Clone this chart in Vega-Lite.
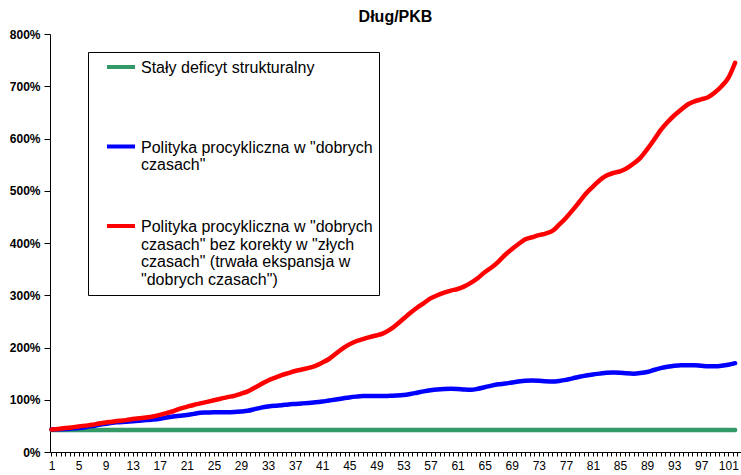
{
  "$schema": "https://vega.github.io/schema/vega-lite/v6.json",
  "width": 691,
  "height": 418,
  "autosize": "none",
  "padding": {"left": 50, "top": 34, "right": 0, "bottom": 23},
  "background": "white",
  "title": {"text": "Dług/PKB", "font": "Liberation Sans", "fontSize": 16, "fontWeight": "bold", "color": "black", "anchor": "middle", "baseline": "alphabetic", "offset": 11, "dy": 21},
  "data": {"values": [
{"x":1,"s":"a","v":42},{"x":2,"s":"a","v":42},{"x":3,"s":"a","v":42},{"x":4,"s":"a","v":42},{"x":5,"s":"a","v":42},{"x":6,"s":"a","v":42},{"x":7,"s":"a","v":42},{"x":8,"s":"a","v":42},{"x":9,"s":"a","v":42},{"x":10,"s":"a","v":42},
{"x":11,"s":"a","v":42},{"x":12,"s":"a","v":42},{"x":13,"s":"a","v":42},{"x":14,"s":"a","v":42},{"x":15,"s":"a","v":42},{"x":16,"s":"a","v":42},{"x":17,"s":"a","v":42},{"x":18,"s":"a","v":42},{"x":19,"s":"a","v":42},{"x":20,"s":"a","v":42},
{"x":21,"s":"a","v":42},{"x":22,"s":"a","v":42},{"x":23,"s":"a","v":42},{"x":24,"s":"a","v":42},{"x":25,"s":"a","v":42},{"x":26,"s":"a","v":42},{"x":27,"s":"a","v":42},{"x":28,"s":"a","v":42},{"x":29,"s":"a","v":42},{"x":30,"s":"a","v":42},
{"x":31,"s":"a","v":42},{"x":32,"s":"a","v":42},{"x":33,"s":"a","v":42},{"x":34,"s":"a","v":42},{"x":35,"s":"a","v":42},{"x":36,"s":"a","v":42},{"x":37,"s":"a","v":42},{"x":38,"s":"a","v":42},{"x":39,"s":"a","v":42},{"x":40,"s":"a","v":42},
{"x":41,"s":"a","v":42},{"x":42,"s":"a","v":42},{"x":43,"s":"a","v":42},{"x":44,"s":"a","v":42},{"x":45,"s":"a","v":42},{"x":46,"s":"a","v":42},{"x":47,"s":"a","v":42},{"x":48,"s":"a","v":42},{"x":49,"s":"a","v":42},{"x":50,"s":"a","v":42},
{"x":51,"s":"a","v":42},{"x":52,"s":"a","v":42},{"x":53,"s":"a","v":42},{"x":54,"s":"a","v":42},{"x":55,"s":"a","v":42},{"x":56,"s":"a","v":42},{"x":57,"s":"a","v":42},{"x":58,"s":"a","v":42},{"x":59,"s":"a","v":42},{"x":60,"s":"a","v":42},
{"x":61,"s":"a","v":42},{"x":62,"s":"a","v":42},{"x":63,"s":"a","v":42},{"x":64,"s":"a","v":42},{"x":65,"s":"a","v":42},{"x":66,"s":"a","v":42},{"x":67,"s":"a","v":42},{"x":68,"s":"a","v":42},{"x":69,"s":"a","v":42},{"x":70,"s":"a","v":42},
{"x":71,"s":"a","v":42},{"x":72,"s":"a","v":42},{"x":73,"s":"a","v":42},{"x":74,"s":"a","v":42},{"x":75,"s":"a","v":42},{"x":76,"s":"a","v":42},{"x":77,"s":"a","v":42},{"x":78,"s":"a","v":42},{"x":79,"s":"a","v":42},{"x":80,"s":"a","v":42},
{"x":81,"s":"a","v":42},{"x":82,"s":"a","v":42},{"x":83,"s":"a","v":42},{"x":84,"s":"a","v":42},{"x":85,"s":"a","v":42},{"x":86,"s":"a","v":42},{"x":87,"s":"a","v":42},{"x":88,"s":"a","v":42},{"x":89,"s":"a","v":42},{"x":90,"s":"a","v":42},
{"x":91,"s":"a","v":42},{"x":92,"s":"a","v":42},{"x":93,"s":"a","v":42},{"x":94,"s":"a","v":42},{"x":95,"s":"a","v":42},{"x":96,"s":"a","v":42},{"x":97,"s":"a","v":42},{"x":98,"s":"a","v":42},{"x":99,"s":"a","v":42},{"x":100,"s":"a","v":42},
{"x":101,"s":"a","v":42},{"x":102,"s":"a","v":42},
{"x":1,"s":"b","v":43},{"x":2,"s":"b","v":43.5},{"x":3,"s":"b","v":44},{"x":4,"s":"b","v":45},{"x":5,"s":"b","v":46},{"x":6,"s":"b","v":47.5},{"x":7,"s":"b","v":49.5},{"x":8,"s":"b","v":52},{"x":9,"s":"b","v":54},{"x":10,"s":"b","v":56},
{"x":11,"s":"b","v":57},{"x":12,"s":"b","v":58},{"x":13,"s":"b","v":59},{"x":14,"s":"b","v":60},{"x":15,"s":"b","v":61},{"x":16,"s":"b","v":62},{"x":17,"s":"b","v":63.5},{"x":18,"s":"b","v":66},{"x":19,"s":"b","v":68},{"x":20,"s":"b","v":69.5},
{"x":21,"s":"b","v":71},{"x":22,"s":"b","v":73},{"x":23,"s":"b","v":75},{"x":24,"s":"b","v":75.5},{"x":25,"s":"b","v":76},{"x":26,"s":"b","v":76},{"x":27,"s":"b","v":76},{"x":28,"s":"b","v":76.5},{"x":29,"s":"b","v":77.5},{"x":30,"s":"b","v":79},
{"x":31,"s":"b","v":82},{"x":32,"s":"b","v":85},{"x":33,"s":"b","v":87},{"x":34,"s":"b","v":88.5},{"x":35,"s":"b","v":89.5},{"x":36,"s":"b","v":91},{"x":37,"s":"b","v":92},{"x":38,"s":"b","v":93},{"x":39,"s":"b","v":94},{"x":40,"s":"b","v":95},
{"x":41,"s":"b","v":96.5},{"x":42,"s":"b","v":98.5},{"x":43,"s":"b","v":100.5},{"x":44,"s":"b","v":102.5},{"x":45,"s":"b","v":104.5},{"x":46,"s":"b","v":106},{"x":47,"s":"b","v":107},{"x":48,"s":"b","v":107},{"x":49,"s":"b","v":107},{"x":50,"s":"b","v":107},
{"x":51,"s":"b","v":107.5},{"x":52,"s":"b","v":108},{"x":53,"s":"b","v":109},{"x":54,"s":"b","v":111},{"x":55,"s":"b","v":113.5},{"x":56,"s":"b","v":116},{"x":57,"s":"b","v":118},{"x":58,"s":"b","v":119.5},{"x":59,"s":"b","v":120.5},{"x":60,"s":"b","v":121},
{"x":61,"s":"b","v":120.5},{"x":62,"s":"b","v":119.5},{"x":63,"s":"b","v":119},{"x":64,"s":"b","v":121},{"x":65,"s":"b","v":124},{"x":66,"s":"b","v":127},{"x":67,"s":"b","v":129.5},{"x":68,"s":"b","v":131},{"x":69,"s":"b","v":133},{"x":70,"s":"b","v":135},
{"x":71,"s":"b","v":136.5},{"x":72,"s":"b","v":137},{"x":73,"s":"b","v":136.5},{"x":74,"s":"b","v":135.5},{"x":75,"s":"b","v":135},{"x":76,"s":"b","v":136},{"x":77,"s":"b","v":138},{"x":78,"s":"b","v":141},{"x":79,"s":"b","v":144},{"x":80,"s":"b","v":146.5},
{"x":81,"s":"b","v":148.5},{"x":82,"s":"b","v":150},{"x":83,"s":"b","v":151.5},{"x":84,"s":"b","v":152},{"x":85,"s":"b","v":151.5},{"x":86,"s":"b","v":150.5},{"x":87,"s":"b","v":150},{"x":88,"s":"b","v":151},{"x":89,"s":"b","v":153},{"x":90,"s":"b","v":157},
{"x":91,"s":"b","v":160.5},{"x":92,"s":"b","v":163},{"x":93,"s":"b","v":165},{"x":94,"s":"b","v":166},{"x":95,"s":"b","v":166},{"x":96,"s":"b","v":166},{"x":97,"s":"b","v":165},{"x":98,"s":"b","v":164},{"x":99,"s":"b","v":164},{"x":100,"s":"b","v":165},
{"x":101,"s":"b","v":167},{"x":102,"s":"b","v":170},
{"x":1,"s":"c","v":43},{"x":2,"s":"c","v":44},{"x":3,"s":"c","v":46},{"x":4,"s":"c","v":47},{"x":5,"s":"c","v":49},{"x":6,"s":"c","v":50.5},{"x":7,"s":"c","v":52},{"x":8,"s":"c","v":54.5},{"x":9,"s":"c","v":56.5},{"x":10,"s":"c","v":58},
{"x":11,"s":"c","v":60},{"x":12,"s":"c","v":61},{"x":13,"s":"c","v":63},{"x":14,"s":"c","v":64.5},{"x":15,"s":"c","v":66},{"x":16,"s":"c","v":68},{"x":17,"s":"c","v":71},{"x":18,"s":"c","v":74.5},{"x":19,"s":"c","v":78},{"x":20,"s":"c","v":83},
{"x":21,"s":"c","v":86.5},{"x":22,"s":"c","v":90},{"x":23,"s":"c","v":93},{"x":24,"s":"c","v":96},{"x":25,"s":"c","v":99},{"x":26,"s":"c","v":102},{"x":27,"s":"c","v":105},{"x":28,"s":"c","v":107.5},{"x":29,"s":"c","v":111.5},{"x":30,"s":"c","v":116},
{"x":31,"s":"c","v":123},{"x":32,"s":"c","v":130},{"x":33,"s":"c","v":137},{"x":34,"s":"c","v":142},{"x":35,"s":"c","v":147},{"x":36,"s":"c","v":151},{"x":37,"s":"c","v":155},{"x":38,"s":"c","v":158},{"x":39,"s":"c","v":161},{"x":40,"s":"c","v":165},
{"x":41,"s":"c","v":171},{"x":42,"s":"c","v":178},{"x":43,"s":"c","v":188},{"x":44,"s":"c","v":198},{"x":45,"s":"c","v":206},{"x":46,"s":"c","v":212},{"x":47,"s":"c","v":216},{"x":48,"s":"c","v":220},{"x":49,"s":"c","v":223},{"x":50,"s":"c","v":227},
{"x":51,"s":"c","v":234},{"x":52,"s":"c","v":244},{"x":53,"s":"c","v":255},{"x":54,"s":"c","v":266},{"x":55,"s":"c","v":276},{"x":56,"s":"c","v":285},{"x":57,"s":"c","v":294},{"x":58,"s":"c","v":300},{"x":59,"s":"c","v":305},{"x":60,"s":"c","v":309},
{"x":61,"s":"c","v":312},{"x":62,"s":"c","v":317},{"x":63,"s":"c","v":324},{"x":64,"s":"c","v":333},{"x":65,"s":"c","v":344},{"x":66,"s":"c","v":353},{"x":67,"s":"c","v":364},{"x":68,"s":"c","v":377},{"x":69,"s":"c","v":388},{"x":70,"s":"c","v":398},
{"x":71,"s":"c","v":407},{"x":72,"s":"c","v":411},{"x":73,"s":"c","v":415},{"x":74,"s":"c","v":418},{"x":75,"s":"c","v":423},{"x":76,"s":"c","v":435},{"x":77,"s":"c","v":448},{"x":78,"s":"c","v":463},{"x":79,"s":"c","v":479},{"x":80,"s":"c","v":495},
{"x":81,"s":"c","v":508},{"x":82,"s":"c","v":520},{"x":83,"s":"c","v":529},{"x":84,"s":"c","v":534},{"x":85,"s":"c","v":537},{"x":86,"s":"c","v":543},{"x":87,"s":"c","v":552},{"x":88,"s":"c","v":563},{"x":89,"s":"c","v":579},{"x":90,"s":"c","v":597},
{"x":91,"s":"c","v":616},{"x":92,"s":"c","v":631},{"x":93,"s":"c","v":644},{"x":94,"s":"c","v":655},{"x":95,"s":"c","v":665},{"x":96,"s":"c","v":671},{"x":97,"s":"c","v":675},{"x":98,"s":"c","v":679},{"x":99,"s":"c","v":688},{"x":100,"s":"c","v":700},
{"x":101,"s":"c","v":716},{"x":102,"s":"c","v":745}
  ]},
  "mark": {"type": "line", "strokeWidth": 4.5, "strokeCap": "round", "strokeJoin": "round", "interpolate": "monotone"},
  "encoding": {
    "x": {
      "field": "x", "type": "quantitative",
      "scale": {"domain": [0.78, 102.87], "nice": false, "zero": false},
      "axis": {
        "title": null, "grid": false,
        "values": [1,1.6667,2.3333,3,3.6667,4.3333,5,5.6667,6.3333,7,7.6667,8.3333,9,9.6667,10.3333,11,11.6667,12.3333,13,13.6667,14.3333,15,15.6667,16.3333,17,17.6667,18.3333,19,19.6667,20.3333,21,21.6667,22.3333,23,23.6667,24.3333,25,25.6667,26.3333,27,27.6667,28.3333,29,29.6667,30.3333,31,31.6667,32.3333,33,33.6667,34.3333,35,35.6667,36.3333,37,37.6667,38.3333,39,39.6667,40.3333,41,41.6667,42.3333,43,43.6667,44.3333,45,45.6667,46.3333,47,47.6667,48.3333,49,49.6667,50.3333,51,51.6667,52.3333,53,53.6667,54.3333,55,55.6667,56.3333,57,57.6667,58.3333,59,59.6667,60.3333,61,61.6667,62.3333,63,63.6667,64.3333,65,65.6667,66.3333,67,67.6667,68.3333,69,69.6667,70.3333,71,71.6667,72.3333,73,73.6667,74.3333,75,75.6667,76.3333,77,77.6667,78.3333,79,79.6667,80.3333,81,81.6667,82.3333,83,83.6667,84.3333,85,85.6667,86.3333,87,87.6667,88.3333,89,89.6667,90.3333,91,91.6667,92.3333,93,93.6667,94.3333,95,95.6667,96.3333,97,97.6667,98.3333,99,99.6667,100.3333,101,101.6667,102.3333],
        "labelExpr": "abs(datum.value - round(datum.value)) < 0.01 && (round(datum.value) - 1) % 4 == 0 ? '' + round(datum.value) : ''",
        "labelOverlap": false, "labelFlush": false,
        "labelFont": "Liberation Sans", "labelFontSize": 12, "labelColor": "black", "labelPadding": 4,
        "tickSize": 4, "tickColor": "black", "tickWidth": 1,
        "domainColor": "black", "domainWidth": 1
      }
    },
    "y": {
      "field": "v", "type": "quantitative",
      "scale": {"domain": [0, 800], "nice": false},
      "axis": {
        "title": null, "grid": false,
        "values": [0,100,200,300,400,500,600,700,800],
        "labelExpr": "datum.value + '%'",
        "labelFont": "Liberation Sans", "labelFontSize": 12, "labelFontWeight": "bold", "labelColor": "black", "labelPadding": 4,
        "tickSize": 6, "tickColor": "black", "tickWidth": 1,
        "domainColor": "black", "domainWidth": 1
      }
    },
    "color": {
      "field": "s", "type": "nominal",
      "scale": {"domain": ["a","b","c"], "range": ["#339966","#0000FF","#FF0000"]},
      "legend": {
        "orient": "none", "legendX": 38, "legendY": 18,
        "title": null,
        "strokeColor": "black", "fillColor": "white",
        "padding": 6,
        "symbolType": "M-2,0L2,0", "symbolSize": 196, "symbolStrokeWidth": 4, "symbolOffset": 18,
        "labelOffset": 11,
        "labelFont": "Liberation Sans", "labelFontSize": 16, "labelColor": "black", "labelLimit": 500,
        "labelBaseline": "top",
        "rowPadding": 7.5,
        "labelExpr": "datum.value == 'a' ? ['Stały deficyt strukturalny', '', '', ''] : datum.value == 'b' ? ['Polityka procykliczna w \"dobrych', 'czasach\"', '', ''] : ['Polityka procykliczna w \"dobrych', 'czasach\" bez korekty w \"złych', 'czasach\" (trwała ekspansja w', '\"dobrych czasach\")']",
        "encode": {"labels": {"update": {"lineHeight": {"value": 17.7}, "dy": {"value": -7}}}}
      }
    }
  },
  "config": {"view": {"stroke": null}}
}
